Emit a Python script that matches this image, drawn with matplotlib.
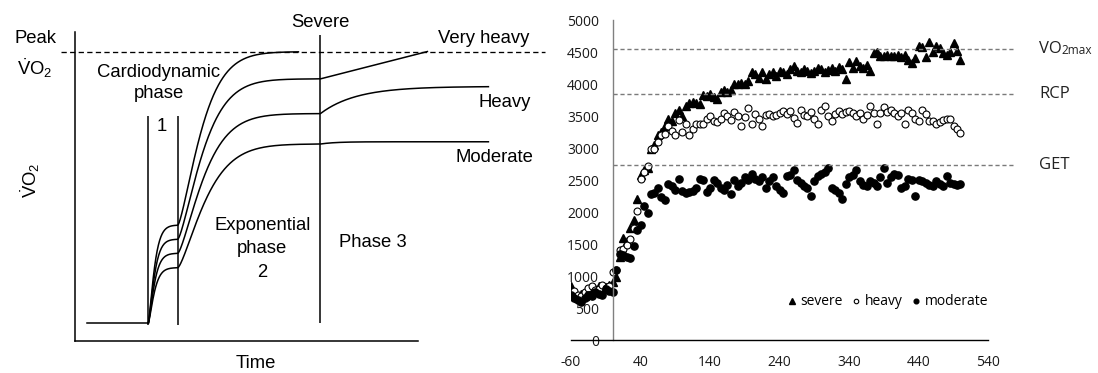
import numpy as np
import matplotlib.pyplot as plt

plt.rcParams['font.family'] = 'Liberation Sans'
plt.rcParams['mathtext.fontset'] = 'custom'
plt.rcParams['mathtext.rm'] = 'Liberation Sans'
plt.rcParams['mathtext.it'] = 'Liberation Sans:italic'
plt.rcParams['mathtext.bf'] = 'Liberation Sans:bold'
plt.rcParams['axes.unicode_minus'] = False

# ---- left panel: schematic VO2 kinetics (fraction of peak, arbitrary time units)
domains = ['Moderate', 'Heavy', 'Very heavy', 'Severe']
phase1_level = [0.204, 0.257, 0.309, 0.361]
phase2_level = [0.660, 0.772, 0.900, 1.000]
phase2_tau = [3.3, 3.1, 3.0, 2.8]
slow_amp = [0.008, 0.100, 0.0094, 0.0]   # very heavy: slope per unit
slow_tau = [1.5, 3.6, None, None]
curve_end = [34.0, 34.0, 27.9, 15.0]
t_phase1_end = 2.95
t_phase3 = 17.2

# ---- right panel: measured VO2 (ml/min), every 5 s
t_sec = np.arange(-60, 505, 5)
severe = [850, 700, 650, 720, 680, 780, 820, 800, 850, 800, 830, 860, 900,
          980, 1300, 1600, 1550, 1750, 1880, 2200, 2580, 2650, 2680, 2980, 3050,
          3200, 3250, 3350, 3450, 3420, 3550, 3600, 3500, 3650, 3700, 3720, 3700,
          3680, 3830, 3820, 3850, 3800, 3770, 3880, 3900, 3880, 3900, 4000, 4000,
          4020, 4000, 4050, 4180, 4150, 4100, 4180, 4080, 4150, 4180, 4120, 4200,
          4180, 4150, 4230, 4280, 4200, 4180, 4230, 4200, 4170, 4200, 4250, 4230,
          4180, 4220, 4250, 4200, 4270, 4230, 4080, 4350, 4250, 4360, 4280, 4250,
          4300, 4200, 4480, 4500, 4430, 4430, 4450, 4440, 4430, 4450, 4420, 4450,
          4380, 4330, 4400, 4600, 4580, 4420, 4660, 4500, 4600, 4560, 4480, 4460,
          4500, 4640, 4520, 4370]
heavy = [700, 760, 700, 680, 750, 820, 850, 780, 800, 860, 820, 850, 1070,
         1100, 1400, 1420, 1480, 1580, 1750, 2020, 2520, 2620, 2720, 2980, 2980,
         3100, 3200, 3220, 3350, 3260, 3200, 3430, 3250, 3380, 3200, 3300, 3380,
         3380, 3380, 3450, 3500, 3420, 3400, 3450, 3550, 3500, 3430, 3560, 3500,
         3350, 3480, 3630, 3380, 3530, 3450, 3350, 3520, 3530, 3500, 3520, 3550,
         3580, 3530, 3580, 3470, 3390, 3600, 3520, 3500, 3560, 3450, 3370, 3600,
         3650, 3500, 3420, 3530, 3580, 3530, 3560, 3580, 3540, 3500, 3550, 3460,
         3520, 3660, 3550, 3380, 3540, 3640, 3570, 3600, 3540, 3500, 3550, 3370,
         3600, 3550, 3450, 3420, 3600, 3530, 3420, 3420, 3370, 3400, 3430, 3450,
         3450, 3350, 3300, 3230]
moderate = [700, 650, 620, 600, 650, 700, 680, 750, 720, 700, 800, 760, 750,
            1100, 1350, 1330, 1300, 1280, 1470, 1720, 1800, 2100, 1980, 2280, 2300,
            2380, 2230, 2180, 2430, 2400, 2350, 2520, 2330, 2300, 2320, 2330, 2380,
            2520, 2500, 2320, 2380, 2500, 2450, 2380, 2350, 2420, 2280, 2500, 2400,
            2450, 2550, 2500, 2600, 2520, 2480, 2550, 2380, 2480, 2550, 2400, 2350,
            2300, 2560, 2580, 2650, 2500, 2450, 2400, 2380, 2250, 2480, 2560, 2600,
            2630, 2680, 2380, 2350, 2300, 2200, 2430, 2550, 2580, 2650, 2480, 2420,
            2400, 2480, 2450, 2400, 2550, 2680, 2450, 2550, 2600, 2580, 2380, 2400,
            2520, 2500, 2250, 2500, 2480, 2450, 2420, 2400, 2480, 2430, 2400, 2570,
            2450, 2430, 2420, 2430]
thresholds = [4540, 3840, 2730]
threshold_names = ['VO', 'RCP', 'GET']


def vo2_curve(t, i):
    v = np.zeros_like(t)
    p1 = phase1_level[i]
    m = t <= t_phase1_end
    v[m] = p1 * (1 - np.exp(-(t[m] / 0.7) ** 1.3))
    m2 = t > t_phase1_end
    dt = t[m2] - t_phase1_end
    v[m2] = p1 + (phase2_level[i] - p1) * (1 - np.exp(-(dt / phase2_tau[i]) ** 1.35))
    m3 = t > t_phase3
    d3 = t[m3] - t_phase3
    if slow_tau[i] is None:
        v[m3] += slow_amp[i] * d3
    else:
        v[m3] += slow_amp[i] * (1 - np.exp(-d3 / slow_tau[i]))
    return v


fig = plt.figure(figsize=(10.98, 3.73), dpi=100)

# left schematic
axl = fig.add_axes([0, 0, 0.5, 1])
axl.set_xlim(-14.84, 40.06)
axl.set_ylim(-0.1843, 1.1906)
axl.set_xticks([])
axl.set_yticks([])
for s in ['top', 'right']:
    axl.spines[s].set_visible(False)
axl.spines['left'].set_position(('data', -7.37))
axl.spines['left'].set_bounds(-0.066, 1.073)
axl.spines['bottom'].set_position(('data', -0.066))
axl.spines['bottom'].set_bounds(-7.37, 26.97)
for s in ['left', 'bottom']:
    axl.spines[s].set_linewidth(1.1)

axl.plot([-6.18, 0], [0, 0], color='black', lw=1.1)
for i in range(len(domains)):
    tt = np.linspace(0, curve_end[i], 600)
    axl.plot(tt, vo2_curve(tt, i), color='black', lw=1.1)
axl.vlines([0, t_phase1_end], -0.007, 0.763, color='black', lw=1.1)
axl.vlines(t_phase3, 0, 1.062, color='black', lw=1.1)
axl.plot([-8.7, 39.7], [1, 1], color='black', lw=0.95, ls=(0, (4, 2.5)))

fs = 13.3
axl.text(-11.34, 1.031, 'Peak', ha='center', va='baseline', fontsize=fs)
axl.text(-11.34, 0.914, r'$\dot{\mathrm{V}}\mathrm{O}_2$', ha='center', va='baseline', fontsize=fs)
axl.text(-11.84, 0.527, r'$\dot{\mathrm{V}}\mathrm{O}_2$', ha='center', va='center',
         rotation=90, fontsize=fs)
axl.text(1.02, 0.908, 'Cardiodynamic', ha='center', va='baseline', fontsize=fs)
axl.text(1.02, 0.828, 'phase', ha='center', va='baseline', fontsize=fs)
axl.text(1.3, 0.708, '1', ha='center', va='baseline', fontsize=fs)
axl.text(11.4, 0.343, 'Exponential', ha='center', va='baseline', fontsize=fs)
axl.text(11.4, 0.257, 'phase', ha='center', va='baseline', fontsize=fs)
axl.text(11.4, 0.171, '2', ha='center', va='baseline', fontsize=fs)
axl.text(22.4, 0.281, 'Phase 3', ha='center', va='baseline', fontsize=fs)
axl.text(17.2, 1.092, 'Severe', ha='center', va='baseline', fontsize=fs)
axl.text(33.5, 1.031, 'Very heavy', ha='center', va='baseline', fontsize=fs)
axl.text(35.66, 0.795, 'Heavy', ha='center', va='baseline', fontsize=fs)
axl.text(34.56, 0.592, 'Moderate', ha='center', va='baseline', fontsize=fs)
axl.text(10.7, -0.165, 'Time', ha='center', va='baseline', fontsize=fs)

# right data panel
axr = fig.add_axes([571 / 1098, 33 / 373, 417.3 / 1098, 320 / 373])
axr.plot(t_sec, severe, ls='none', marker='^', ms=5.6, color='black', label='severe')
axr.plot(t_sec, heavy, ls='none', marker='o', ms=5.0, mfc='white', mec='black',
         mew=0.8, label='heavy')
axr.plot(t_sec, moderate, ls='none', marker='o', ms=5.2, color='black', label='moderate')
axr.hlines(thresholds, 0, 578, colors='#7a7a7a', lw=1.0, linestyles=(0, (3, 2)),
           clip_on=False)
for lvl, name in zip(thresholds, threshold_names):
    t0 = axr.text(613, lvl, name, ha='left', va='center', fontsize=12,
                  family='Open Sans', color='#222222', clip_on=False)
    if name == 'VO':
        axr.annotate('2max', xy=(1, 0.04), xycoords=t0, ha='left', va='bottom',
                     fontsize=8.5, family='Open Sans', color='#222222')

axr.set_xlim(-60, 540)
axr.set_ylim(0, 5000)
axr.set_xticks(range(-60, 541, 100))
axr.set_yticks(range(0, 5001, 500))
for s in ['top', 'right']:
    axr.spines[s].set_visible(False)
axr.spines['left'].set_position(('data', 0))
axr.spines['left'].set_color('#808080')
axr.spines['left'].set_linewidth(1.0)
axr.spines['bottom'].set_color('black')
axr.spines['bottom'].set_linewidth(1.0)
axr.tick_params(length=0, labelsize=10, labelcolor='#1a1a1a')
axr.tick_params(axis='y', pad=10)
axr.tick_params(axis='x', pad=11)
for lab in axr.get_xticklabels() + axr.get_yticklabels():
    lab.set_fontfamily('Open Sans')
axr.legend(loc='center right', bbox_to_anchor=(1.0, 0.119), ncol=3, frameon=False,
           handlelength=0.6, handletextpad=0.3, columnspacing=0.7, borderpad=0,
           borderaxespad=0, markerscale=0.65, prop={'family': 'Open Sans', 'size': 10})

fig.savefig('out.png', dpi=100)
